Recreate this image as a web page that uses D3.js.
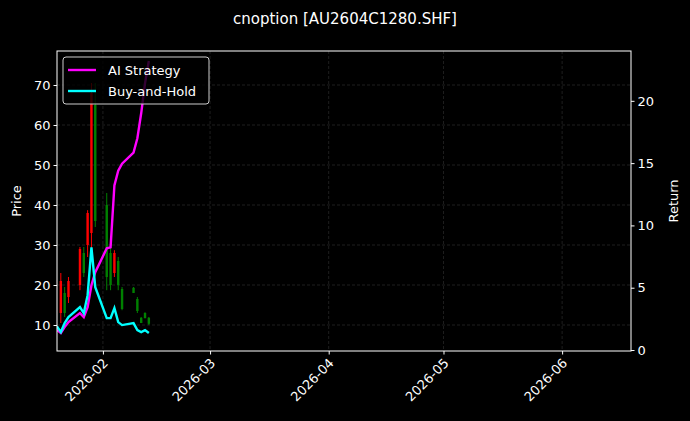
<!DOCTYPE html>
<html><head><meta charset="utf-8">
<script src="https://cdn.jsdelivr.net/npm/d3@7"></script>
<style>body{margin:0;background:#000}svg{display:block}text{font-family:"DejaVu Sans",sans-serif;fill:#fff}</style>
</head><body><svg id="c" width="690" height="421"></svg>
<script>
const candleDates=["2026-01-21","2026-01-22","2026-01-23","2026-01-26","2026-01-27","2026-01-28","2026-01-29","2026-01-30","2026-02-02","2026-02-03","2026-02-04","2026-02-05","2026-02-06","2026-02-09","2026-02-10","2026-02-11","2026-02-12","2026-02-13"];
const open =[21,13,21,29,23,38,68,36,22,20,28,20,14,18,13.5,10.5,11.7,10.3];
const high =[23,19.5,22,29.5,29.5,38.7,70.5,70.5,43,30.5,28.7,27,19.5,19.5,17,12,13.2,12];
const low  =[10.5,12,15.5,18.7,22,27,28.7,34.5,18.7,18.7,22,18.7,13.7,18,13,10.5,11.7,10];
const close=[13,18,17,20,28,30,33,65,40,28,23,26,19,19.3,16.5,11.8,13,11.8];
const lineDates=["2026-01-20"].concat(candleDates);
const aiStrategy=[1.6,1.36,1.84,2.24,2.96,2.64,3.44,5.2,6.24,8.16,8.24,13.2,14.4,14.96,15.84,17.0,19.0,21.4,23.2];
const buyHold=[1.9,1.44,2.16,2.64,3.44,2.96,4.4,8.24,5.04,2.56,2.56,3.36,2.24,2.0,2.16,1.6,1.44,1.6,1.36];
const xTicks=["2026-02-01","2026-03-01","2026-04-01","2026-05-01","2026-06-01"];
const priceTicks=[10,20,30,40,50,60,70];
const returnTicks=[0,5,10,15,20];

const p=d3.timeParse("%Y-%m-%d");
const svg=d3.select("#c");
const L=57,R=631,T=51,B=351;
const x=d3.scaleTime().domain([p("2026-01-20"),p("2026-06-19")]).range([L,R]);
const y=d3.scaleLinear().domain([3.5,78.5]).range([B,T]);
const y2=d3.scaleLinear().domain([0,24]).range([B-1,T]);
svg.append("defs").append("clipPath").attr("id","cl").append("rect").attr("x",L).attr("y",T).attr("width",R-L).attr("height",B-T);
const g=svg.append("g");
xTicks.forEach(t=>g.append("line").attr("x1",x(p(t))).attr("x2",x(p(t))).attr("y1",T).attr("y2",B));
priceTicks.forEach(t=>g.append("line").attr("x1",L).attr("x2",R).attr("y1",y(t)).attr("y2",y(t)));
g.selectAll("line").attr("stroke","#fff").attr("stroke-opacity",0.2).attr("stroke-dasharray","3,2").attr("stroke-width",0.6);
const cg=svg.append("g").attr("clip-path","url(#cl)");
candleDates.forEach((d,i)=>{
  const c=close[i]>=open[i]?"#008000":"#ff0000";
  const xx=x(p(d));
  cg.append("line").attr("x1",xx).attr("x2",xx).attr("y1",y(high[i])).attr("y2",y(low[i])).attr("stroke",c).attr("stroke-width",1);
  cg.append("rect").attr("x",xx-1.2).attr("width",2.4).attr("y",y(Math.max(open[i],close[i]))).attr("height",Math.abs(y(open[i])-y(close[i]))).attr("fill",c);
});
const ln=d3.line().x((d,i)=>x(p(lineDates[i]))).y(d=>y2(d));
cg.append("path").datum(aiStrategy).attr("d",ln).attr("fill","none").attr("stroke","#ff00ff").attr("stroke-width",2.4);
cg.append("path").datum(buyHold).attr("d",ln).attr("fill","none").attr("stroke","#00ffff").attr("stroke-width",2.4);
const ax=svg.append("g").attr("transform",`translate(0,${B})`).call(d3.axisBottom(x).tickValues(xTicks.map(p)).tickFormat(d3.timeFormat("%Y-%m")).tickSizeOuter(0).tickSize(3.5));
ax.selectAll("text").attr("transform","rotate(-45)").attr("text-anchor","end").attr("dx","-0.4em").attr("dy","0.5em");
const ay=svg.append("g").attr("transform",`translate(${L},0)`).call(d3.axisLeft(y).tickValues(priceTicks).tickSizeOuter(0).tickSize(3.5));
const ay2=svg.append("g").attr("transform",`translate(${R},0)`).call(d3.axisRight(y2).tickValues(returnTicks).tickSizeOuter(0).tickSize(3.5));
[ax,ay,ay2].forEach(a=>{a.select(".domain").remove();a.selectAll("line").attr("stroke","#fff");a.selectAll("text").style("font-size","13px").attr("fill","#fff");});
svg.append("rect").attr("x",L).attr("y",T).attr("width",R-L).attr("height",B-T).attr("fill","none").attr("stroke","#fff").attr("stroke-width",1);
svg.append("text").attr("x",345).attr("y",24).attr("text-anchor","middle").style("font-size","15px").text("cnoption [AU2604C1280.SHF]");
svg.append("text").attr("transform",`translate(21,${(T+B)/2}) rotate(-90)`).attr("text-anchor","middle").style("font-size","13px").text("Price");
svg.append("text").attr("transform",`translate(678,${(T+B)/2}) rotate(-90)`).attr("text-anchor","middle").style("font-size","13px").text("Return");
const lg=svg.append("g");
lg.append("rect").attr("x",63).attr("y",57).attr("width",146).attr("height",47).attr("rx",3).attr("fill","#000").attr("fill-opacity",0.8).attr("stroke","#ccc");
[["AI Strategy","#ff00ff",70],["Buy-and-Hold","#00ffff",91]].forEach(([t,c,yy])=>{
  lg.append("line").attr("x1",68).attr("x2",96).attr("y1",yy).attr("y2",yy).attr("stroke",c).attr("stroke-width",2.4);
  lg.append("text").attr("x",108).attr("y",yy+5).style("font-size","13px").text(t);
});
</script></body></html>
